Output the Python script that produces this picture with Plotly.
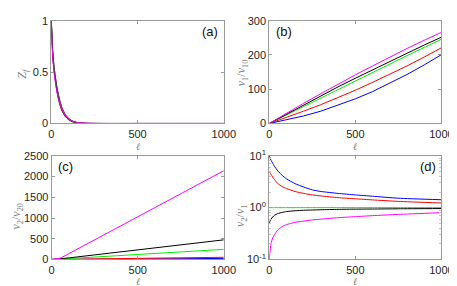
import plotly.graph_objects as go

# ---------------- data ----------------
colors = ["#0000ff", "#ff0000", "#00ee00", "#000000", "#ff00ff"]
names = ["blue", "red", "green", "black", "magenta"]

# (a) Z_f vs ell
ell_a = [0, 5, 10, 15, 20, 30, 40, 50, 60, 80, 100, 125, 150, 200, 300, 500, 1000]
zf = {
    "blue":    [1.0, 0.80, 0.66, 0.57, 0.50, 0.38, 0.29, 0.22, 0.16, 0.09, 0.05, 0.022, 0.009, 0.002, 0, 0, 0],
    "red":     [1.0, 0.79, 0.65, 0.56, 0.49, 0.37, 0.28, 0.21, 0.155, 0.085, 0.047, 0.021, 0.009, 0.002, 0, 0, 0],
    "green":   [1.0, 0.77, 0.63, 0.54, 0.47, 0.35, 0.26, 0.19, 0.14, 0.075, 0.04, 0.017, 0.007, 0.001, 0, 0, 0],
    "black":   [1.0, 0.76, 0.62, 0.53, 0.46, 0.34, 0.25, 0.18, 0.13, 0.07, 0.037, 0.015, 0.006, 0.001, 0, 0, 0],
    "magenta": [1.0, 0.74, 0.60, 0.51, 0.44, 0.33, 0.245, 0.19, 0.14, 0.08, 0.045, 0.02, 0.009, 0.002, 0, 0, 0],
}

# (b) v1/v10 vs ell
ell_b = [0, 100, 200, 300, 400, 500, 600, 700, 800, 900, 1000]
v1 = {
    "blue":    [0, 10, 22, 36, 53, 72, 93, 117, 143, 171, 201],
    "red":     [0, 17, 36, 55, 75, 97, 120, 143, 168, 194, 221],
    "green":   [0, 25, 50, 75, 100, 125, 149, 173, 198, 222, 246],
    "black":   [0, 27, 54, 81, 107, 132, 157, 182, 205, 229, 252],
    "magenta": [0, 30, 59, 87, 115, 142, 168, 194, 219, 243, 266],
}

# (c) v2/v20 vs ell
ell_c = [0, 50, 100, 250, 500, 750, 1000]
v2 = {
    "blue":    [0, 1, 2, 6, 12, 19, 25],
    "red":     [0, 2, 5, 13, 27, 40, 53],
    "green":   [0, 8, 20, 58, 120, 182, 244],
    "black":   [0, 12, 38, 110, 235, 355, 473],
    "magenta": [0, 30, 140, 475, 1030, 1590, 2140],
}

# (d) v2/v1 vs ell (log y)
ell_d = [0, 10, 20, 30, 50, 75, 100, 150, 200, 250, 300, 400, 500, 600, 750, 1000]
ratio = {
    "blue":    [10.0, 8.2, 7.2, 6.3, 5.1, 4.2, 3.6, 2.9, 2.5, 2.2, 2.05, 1.88, 1.76, 1.66, 1.52, 1.42],
    "red":     [5.0, 4.4, 3.9, 3.5, 2.9, 2.55, 2.33, 2.05, 1.88, 1.76, 1.68, 1.56, 1.48, 1.41, 1.32, 1.23],
    "green":   [1.0] * 16,
    "black":   [0.5, 0.6, 0.66, 0.71, 0.77, 0.81, 0.84, 0.87, 0.89, 0.9, 0.91, 0.925, 0.935, 0.94, 0.95, 0.96],
    "magenta": [0.1, 0.2, 0.26, 0.3, 0.37, 0.43, 0.47, 0.52, 0.55, 0.58, 0.6, 0.64, 0.67, 0.7, 0.74, 0.8],
}

xticks = [0, 500, 1000]

# ---------------- figure ----------------
W, H = 457, 286
fig = go.Figure()

def px_x(a, b):
    return [a / W, b / W]

def px_y(top, bot):
    return [1 - bot / H, 1 - top / H]

panels = [
    ("x", "y", ell_a, zf, "spline"),
    ("x2", "y2", ell_b, v1, "linear"),
    ("x3", "y3", ell_c, v2, "linear"),
    ("x4", "y4", ell_d, ratio, "spline"),
]
for xa, ya, ell, data, shp in panels:
    for n, c in zip(names, colors):
        fig.add_trace(go.Scatter(x=ell, y=data[n], mode="lines",
                                 line=dict(color=c, width=1, shape=shp, smoothing=0.5),
                                 xaxis=xa, yaxis=ya, showlegend=False, hoverinfo="skip"))

tickfont = dict(family="Liberation Sans, Arial, sans-serif", size=11, color="#262626")
axcol = "#9a9a9a"
common = dict(showgrid=False, zeroline=False, showline=True, linecolor=axcol, linewidth=1,
              mirror="ticks", ticks="inside", ticklen=3, tickcolor=axcol, tickfont=tickfont)

doms_x = {1: px_x(41.7, 220), 2: px_x(267, 445), 3: px_x(42, 220), 4: px_x(267, 445)}
doms_y = {1: px_y(5, 113), 2: px_y(5, 113), 3: px_y(147, 256), 4: px_y(147, 256)}

layout = dict(width=W, height=H, margin=dict(l=0, r=0, t=0, b=0),
              paper_bgcolor="white", plot_bgcolor="white", showlegend=False)
for i in range(1, 5):
    sx = "" if i == 1 else str(i)
    layout["xaxis" + sx] = dict(common, domain=doms_x[i], range=[0, 1000], tickvals=xticks,
                                anchor="y" + sx, ticklabelstandoff=0)
    layout["yaxis" + sx] = dict(common, domain=doms_y[i], anchor="x" + sx)

minor_vals = [0.2, 0.3, 0.4, 0.5, 0.6, 0.7, 0.8, 0.9, 2, 3, 4, 5, 6, 7, 8, 9]
layout["yaxis"].update(range=[0, 1], tickvals=[0, 0.5, 1], ticktext=["0", "0.5", "1"])
layout["yaxis2"].update(range=[0, 300], tickvals=[0, 100, 200, 300])
layout["yaxis3"].update(range=[0, 2500], tickvals=[0, 500, 1000, 1500, 2000, 2500])
layout["yaxis4"].update(type="log", range=[-1, 1], tickvals=[0.1, 1, 10],
                        ticktext=["10<sup>-1</sup>", "10<sup>0</sup>", "10<sup>1</sup>"],
                        minor=dict(tickvals=minor_vals, ticks="inside", ticklen=2,
                                   tickcolor="#c8c8c8", showgrid=False))
fig.update_layout(**layout)

lab = dict(family="Liberation Serif, DejaVu Serif, serif", size=12, color="#7f7f7f")
def ann(text, x, y, angle=0, font=lab, xanchor="center", pad=1):
    fig.add_annotation(text=text, x=x / W, y=1 - y / H, xref="paper", yref="paper",
                       showarrow=False, textangle=angle, font=font, xanchor=xanchor,
                       yanchor="middle", borderpad=pad)

xl = dict(lab, size=10)
# x titles
for xc, yc in [(131, 137), (356, 137), (131, 279.5), (356, 279.5)]:
    ann("<i>ℓ</i>", xc, yc, font=xl, pad=0)
# y titles
ann("<i>Z</i><sub><i>f</i></sub>", 12, 60, -90)
ann("<i>v</i><sub>1</sub>/<i>v</i><sub>10</sub>", 239, 60, -90)
ann("<i>v</i><sub>2</sub>/<i>v</i><sub>20</sub>", 6, 210, -90)
ann("<i>v</i><sub>2</sub>/<i>v</i><sub>1</sub>", 238, 210, -90)

pf = dict(family="Liberation Sans, Arial, sans-serif", size=13, color="#111111")
ann("(a)", 216, 16, font=pf, xanchor="right")
ann("(b)", 272, 16, font=pf, xanchor="left")
ann("(c)", 47, 158, font=pf, xanchor="left")
ann("(d)", 441, 158, font=pf, xanchor="right")

fig.write_html("out.html")
